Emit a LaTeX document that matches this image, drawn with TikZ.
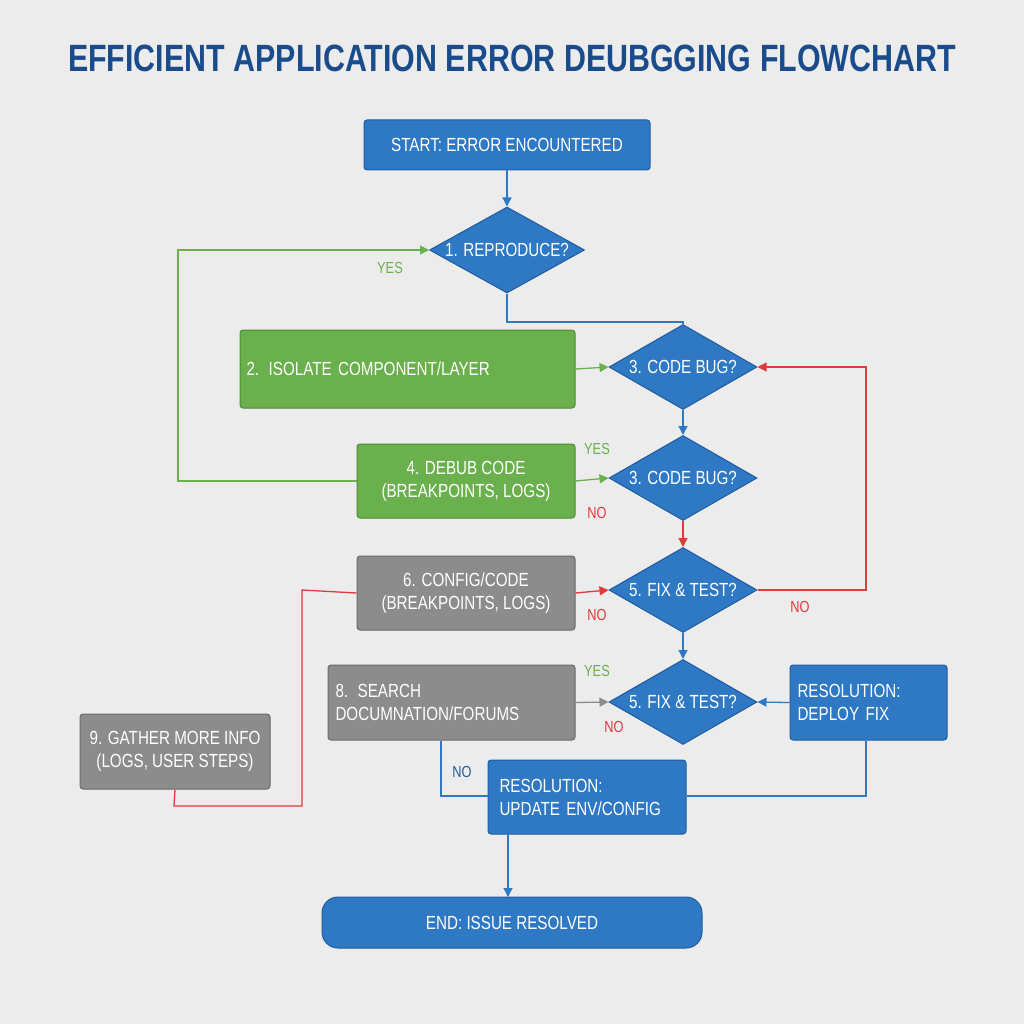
\documentclass[tikz,border=0pt]{standalone}
\usepackage{fontspec}
\setmainfont{Liberation Sans}[FakeStretch=0.8]
\usetikzlibrary{shapes.geometric,arrows.meta}
\definecolor{bg}{HTML}{ECECEC}
\definecolor{bl}{HTML}{2F78C4}
\definecolor{bld}{HTML}{1F5C9E}
\definecolor{gr}{HTML}{6AB04C}
\definecolor{grd}{HTML}{4E8C36}
\definecolor{gy}{HTML}{8C8C8C}
\definecolor{gyd}{HTML}{6A6A6A}
\definecolor{rd}{HTML}{E03A3A}
\definecolor{tt}{HTML}{1A4C8C}
\begin{document}
\begin{tikzpicture}[x=1pt,y=-1pt,
 txt/.style={text=white,font=\fontsize{19}{23}\selectfont},
 box/.style={txt,draw,line width=1pt,rounded corners=3pt,inner sep=0pt,align=left},
 bbox/.style={box,fill=bl,draw=bld},
 gbox/.style={box,fill=gr,draw=grd},
 ybox/.style={box,fill=gy,draw=gyd},
 dia/.style={txt,diamond,fill=bl,draw=bld,line width=1pt,aspect=1.75,minimum width=148pt,minimum height=85pt,inner sep=0pt},
 lnk/.style={line width=1.3pt},
 arr/.style={lnk,-{Triangle[length=9pt,width=9pt]}},
 lab/.style={font=\fontsize{16}{18}\selectfont},
]
\fill[bg] (0,0) rectangle (1024,1024);
\useasboundingbox (0,0) rectangle (1024,1024);
\node[text=tt,font=\fontsize{38}{40}\selectfont\bfseries] (title) at (512,58) {EFFICIENT APPLICATION ERROR DEUBGGING FLOWCHART};

\node[bbox,minimum width=286pt,minimum height=50pt,align=center] (start) at (507,145) {START: ERROR ENCOUNTERED};
\node[dia,minimum width=155pt,minimum height=86pt] (d1) at (507,250) {1. REPRODUCE?};
\node[dia] (d3a) at (683,367) {3. CODE BUG?};
\node[dia] (d3b) at (683,478) {3. CODE BUG?};
\node[dia] (d5a) at (683,590) {5. FIX \& TEST?};
\node[dia] (d5b) at (683,702) {5. FIX \& TEST?};

\node[gbox,minimum width=335pt,minimum height=78pt,text width=322pt] (b2) at (407.5,369) {2. ISOLATE COMPONENT/LAYER};
\node[gbox,minimum width=218pt,minimum height=74pt,align=center] (b4) at (466,481) {4. DEBUB CODE\\(BREAKPOINTS, LOGS)};
\node[ybox,minimum width=218pt,minimum height=74pt,align=center] (b6) at (466,593) {6. CONFIG/CODE\\(BREAKPOINTS, LOGS)};
\node[ybox,minimum width=247pt,minimum height=75pt,text width=232pt] (b8) at (451.5,702.5) {8. SEARCH\\DOCUMNATION/FORUMS};
\node[ybox,minimum width=190pt,minimum height=75pt,align=center] (b9) at (175,751.5) {9. GATHER MORE INFO\\(LOGS, USER STEPS)};
\node[bbox,minimum width=157pt,minimum height=75pt,text width=142pt] (dep) at (868.5,702.5) {RESOLUTION:\\DEPLOY FIX};
\node[bbox,minimum width=198pt,minimum height=74pt,text width=175pt] (upd) at (587,797) {RESOLUTION:\\UPDATE ENV/CONFIG};
\node[bbox,rounded corners=16pt,minimum width=380pt,minimum height=51pt,align=center] (end) at (512,922.5) {END: ISSUE RESOLVED};

\coordinate (c1) at (507,322); \coordinate (c2) at (683,322);
\coordinate (g1) at (178,481); \coordinate (g2) at (178,250);
\coordinate (r1) at (866,590); \coordinate (r2) at (866,367);
\coordinate (s1) at (174,806); \coordinate (s2) at (302,806); \coordinate (s3) at (302,590);
\coordinate (n1) at (441,796); \coordinate (n2) at (866,796);
\coordinate (e0) at (508,834); \coordinate (e1) at (508,897);

\draw[arr,bl] (start) -- (d1);
\draw[lnk,bl] (d1.south) -- (c1) -- (c2) -- (d3a.north);
\draw[arr,gr] (b4.west) -- (g1) -- (g2) -- (d1.west);
\draw[arr,gr] (b2.east) -- (d3a.west);
\draw[arr,bl] (d3a) -- (d3b);
\draw[arr,gr] (b4.east) -- (d3b.west);
\draw[arr,rd] (d3b) -- (d5a);
\draw[arr,rd] (b6.east) -- (d5a.west);
\draw[arr,rd] (d5a.east) -- (r1) -- (r2) -- (d3a.east);
\draw[lnk,rd] (b9.south) -- (s1) -- (s2) -- (s3) -- (b6.west);
\draw[arr,bl] (d5a) -- (d5b);
\draw[arr,gy] (b8.east) -- (d5b.west);
\draw[arr,bl] (dep.west) -- (d5b.east);
\draw[lnk,bl] (b8.south -| n1) -- (n1) -- (upd.west |- n1);
\draw[lnk,bl] (dep.south -| n2) -- (n2) -- (upd.east |- n2);
\draw[arr,bl] (e0) -- (e1);

\node[lab,text=gr] (y1) at (390,268) {YES};
\node[lab,text=gr] (y2) at (597,449) {YES};
\node[lab,text=gr] (y3) at (597,671) {YES};
\node[lab,text=rd] (n3) at (597,513) {NO};
\node[lab,text=rd] (n4) at (597,615) {NO};
\node[lab,text=rd] (n5) at (800,607) {NO};
\node[lab,text=rd] (n6) at (614,727) {NO};
\node[lab,text=bld] (n7) at (462,772) {NO};
\end{tikzpicture}
\end{document}
